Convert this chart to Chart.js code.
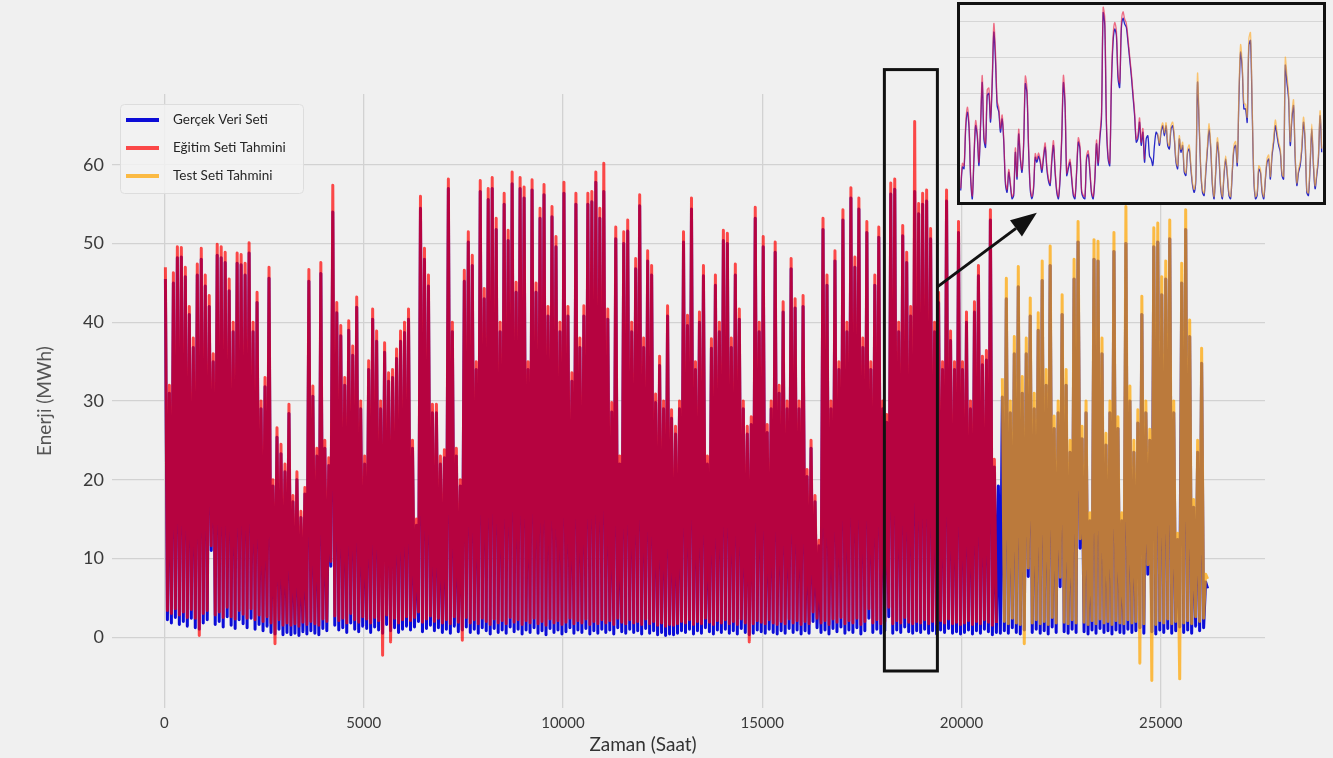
<!DOCTYPE html>
<html>
<head>
<meta charset="utf-8">
<script src="https://cdn.jsdelivr.net/npm/chart.js@4/dist/chart.umd.min.js"></script>
<style>
  html, body { margin: 0; padding: 0; background: #f0f0f0; }
  #wrap { position: relative; width: 1333px; height: 758px; overflow: hidden; background: #f0f0f0; }
  #main { position: absolute; left: 0; top: 0; }
  #zoomBox { position: absolute; left: 957px; top: 2px; width: 369px; height: 203px;
             border: 3px solid #111; box-sizing: border-box; background: #f0f0f0; }
  #inset { position: absolute; left: 0; top: 0; }
</style>
</head>
<body>
<div id="wrap">
  <canvas id="main" width="1333" height="758"></canvas>
  <div id="zoomBox"><canvas id="inset" width="363" height="197"></canvas></div>
</div>
<script>
// ---------------------------------------------------------------
// Hourly energy series, summarised as one daily-high and one
// daily-low value per 100-hour block.
// ---------------------------------------------------------------
const HOURS_PER_BLOCK = 100;
const TEST_START_HOUR = 21000;

// Gerçek veri: block highs (MWh)
const truePeaks = [
  45.5, 31, 45, 48.2, 48.3, 45.8, 41, 36.8, 46, 48,
  44.6, 42, 35, 48.5, 48.2, 47.6, 44, 38.8, 47.5, 47.3,
  46, 48.8, 38.8, 42.5, 29, 31.8, 45.6, 19.2, 25.4, 23.3,
  21, 28.4, 17.2, 20, 15.2, 18.2, 45.2, 30.6, 23, 46.2,
  24, 21.8, 54, 41.2, 38.3, 32, 39, 35.8, 41.9, 29,
  22, 34, 40.4, 37.6, 29, 36.2, 32.5, 33, 35.4, 37.6,
  38.7, 40.4, 24, 14.2, 54.5, 48, 44.6, 28.5, 28.5, 22,
  22.8, 57, 38.8, 23, 19.2, 45.2, 50.2, 47.2, 34, 56.6,
  43, 55.6, 57, 51.8, 38.8, 55, 50.4, 57.6, 43.8, 57,
  55.8, 34, 56.8, 43.8, 53.2, 56.2, 40.8, 53.4, 49.6, 38.8,
  56.4, 40.8, 32.5, 55, 36.8, 40.8, 55, 55.3, 57.8, 53.2,
  56.6, 40.4, 28.6, 50.6, 22, 50, 51.6, 38.8, 46.8, 54.8,
  36.8, 47.8, 46, 29.8, 34.5, 29, 40.8, 27.8, 25.8, 29,
  50.2, 39.6, 54.4, 34, 40, 45.9, 22, 36.7, 44.7, 38.8,
  50.4, 50, 36.8, 46, 40.4, 29, 25.8, 27, 53.2, 38.8,
  49.6, 26, 29, 48.9, 31, 41.3, 29, 46.8, 41.8, 29,
  42, 20.4, 24, 17.2, 11.6, 51.8, 44.7, 29, 47.8, 34,
  53, 38.8, 55.8, 47, 54.4, 36.8, 51.4, 34, 44.7, 50.8,
  29, 27.3, 56.3, 56.9, 38.8, 51, 47.6, 40.8, 56.6, 53.8,
  55, 55.4, 50.6, 38.8, 42.5, 34, 55.4, 37.7, 34, 51.4,
  34, 40, 29, 41.3, 45.9, 34.6, 35.2, 53, 21.6, 19.2,
  30.5, 43, 28.5, 36, 44.5, 31, 36, 40.8, 29, 39,
  45.3, 32, 47.2, 26.5, 28.5, 41, 32, 23.5, 45.5, 50.2,
  25.2, 28.5, 14.8, 48, 47.8, 36, 24.4, 28.5, 49, 26.5,
  14.8, 50, 30, 23.5, 27.2, 41, 28.5, 25, 49.6, 50.2,
  43.5, 45.5, 50.6, 28.5, 12.4, 45, 51.8, 38.2, 16.5, 23.5, 34.8, 7
];
// Gerçek veri: block lows (MWh)
const trueTroughs = [
  2.2, 1.8, 2.5, 1.6, 2.0, 1.4, 2.4, 1.2, 1.0, 1.8,
  2.2, 11, 1.6, 2.0, 1.3, 2.6, 1.5, 1.1, 2.2, 1.7,
  1.2, 2.4, 1.0, 1.6, 0.8, 1.4, 0.6, 0.4, 1.0, 0.3,
  0.6, 0.3, 0.5, 0.2, 0.7, 0.4, 0.8, 0.5, 0.3, 1.1,
  0.8, 9, 1.5, 0.9, 1.2, 0.6, 1.8, 1.0, 0.7, 1.4,
  1.1, 0.6, 1.3, 0.9, 0.5, 1.6, 0.8, 1.2, 0.6, 1.0,
  1.4, 0.9, 1.3, 2.0, 0.7, 1.1, 1.5, 0.8, 1.2, 0.6,
  1.0, 0.5, 1.4, 0.7, 0.9, 1.3, 0.6, 1.0, 0.5, 1.2,
  0.8, 0.4, 1.1, 0.6, 0.9, 0.5, 1.3, 0.7, 1.0, 0.4,
  0.9, 0.6, 1.2, 0.5, 0.8, 0.3, 1.1, 0.6, 0.9, 0.4,
  0.7, 1.2, 0.5, 0.9, 0.6, 1.1, 0.4, 0.8, 0.5, 1.0,
  0.6, 0.9, 0.4, 1.2, 0.7, 0.5, 1.0, 0.6, 0.8, 0.4,
  1.1, 0.5, 0.8, 0.3, 0.6, 0.2, 0.4, 0.3, 0.5, 0.8,
  0.6, 1.0, 0.4, 0.8, 0.5, 1.2, 0.7, 0.4, 0.9, 0.6,
  1.0, 0.5, 0.8, 0.4, 1.1, 0.6, 0.3, 0.5, 0.9, 0.7,
  0.5, 1.0, 0.6, 0.4, 0.8, 0.5, 1.1, 0.6, 0.9, 0.4,
  0.8, 0.5, 2.0, 1.2, 0.6, 0.9, 0.4, 1.1, 0.7, 1.3,
  0.5, 0.9, 0.6, 1.2, 0.4, 0.8, 2.4, 0.6, 1.0, 0.5,
  0.8, 2.6, 0.5, 0.9, 0.6, 1.3, 0.7, 0.5, 0.8, 0.6,
  1.0, 0.5, 0.8, 0.4, 0.9, 0.6, 1.1, 0.5, 0.7, 0.4,
  0.6, 0.9, 0.4, 0.8, 0.5, 1.0, 0.7, 0.3, 0.6, 0.5,
  0.8, 0.5, 1.2, 0.6, 0.4, 0.9, 7.7, 0.6, 1.0, 0.5,
  0.8, 0.4, 1.3, 0.6, 6.4, 0.7, 0.5, 1.0, 0.6, 11.3,
  0.7, 0.4, 0.9, 0.5, 1.1, 0.6, 0.8, 0.4, 0.9, 0.6,
  0.5, 1.0, 0.6, 0.8, 1.2, 0.5, 8.0, 0.7, 0.4, 0.9,
  0.6, 1.1, 0.5, 0.8, 1.3, 0.6, 0.9, 0.5, 1.4, 0.8, 1.2, 6.2
];

// Eğitim seti tahmini (hours 0 .. 20900)
const trainPeaks = [
  47, 32, 46.3, 49.6, 49.5, 47, 42, 38, 47.4, 49.4,
  46, 43.4, 36, 49.9, 49.6, 48.9, 45.5, 40, 48.8, 48.6,
  47.5, 50.1, 40, 43.8, 30, 33, 47, 20, 26.6, 24.5,
  22, 29.6, 18, 21, 16, 19, 46.7, 31.9, 24, 47.6,
  25, 22.8, 57.4, 42.5, 39.6, 33, 40.2, 37, 43.2, 30,
  23, 35.1, 41.7, 38.9, 30, 37.4, 33.6, 34, 36.6, 38.9,
  40, 41.7, 25, 15, 56, 49.4, 46, 29.6, 29.6, 23,
  23.8, 58.2, 40, 24, 20, 46.6, 51.5, 48.5, 35, 58,
  44.3, 57, 58.4, 53.2, 40, 56.4, 51.7, 59.1, 45.1, 58.4,
  57.2, 35, 58.1, 45, 54.5, 57.5, 42, 54.7, 50.9, 40,
  57.8, 42, 33.6, 56.4, 38, 42.1, 56.4, 56.6, 59.1, 54.5,
  60.2, 41.7, 29.8, 52.1, 23, 51.5, 53, 40, 48.1, 56.2,
  38, 49.1, 47.2, 30.9, 35.7, 30, 42.1, 28.9, 26.8, 30,
  51.5, 40.9, 55.8, 35, 41.3, 47.2, 23, 37.9, 46, 40,
  51.7, 51.3, 38, 47.4, 41.7, 30, 26.8, 28, 54.6, 40,
  50.9, 27, 30, 50.2, 32, 42.6, 30, 48.1, 43, 30,
  43.4, 21.3, 25, 18, 12.3, 53.2, 46, 30, 49.1, 35,
  54.3, 40, 57.1, 48.3, 55.8, 38, 52.8, 35, 46, 52.1,
  30, 28.3, 57.7, 58.2, 40, 52.3, 48.9, 42, 65.5, 55.1,
  56.4, 56.8, 51.9, 40, 43.8, 35, 56.8, 38.9, 35, 52.8,
  35, 41.3, 30, 42.6, 47.2, 35.7, 36.4, 54.3, 22.6
];
const trainTroughs = [
  3.4, 3.0, 3.6, 2.8, 3.2, 2.5, 3.5, 2.4, 0.2, 3.0,
  3.4, 11.6, 2.8, 3.2, 2.5, 3.8, 2.6, 2.3, 3.4, 2.9,
  2.4, 3.6, 2.2, 2.8, 2.0, 2.6, 1.8, -0.85, 2.2, 1.5,
  1.8, 1.5, 1.7, 1.4, 1.9, 1.6, 2.0, 1.7, 1.5, 2.3,
  2.0, 9.6, 2.7, 2.1, 2.4, 1.8, 3.0, 2.2, 1.9, 2.6,
  2.3, 1.8, 2.5, 2.1, -2.3, 2.8, -0.6, 2.4, 1.8, 2.2,
  2.6, 2.1, 2.5, 3.2, 1.9, 2.3, 2.7, 2.0, 2.4, 1.8,
  2.2, 1.7, 2.6, 1.9, -0.4, 2.5, 1.8, 2.2, 1.7, 2.4,
  2.0, 1.6, 2.3, 1.8, 2.1, 1.7, 2.5, 1.9, 2.2, 1.6,
  2.1, 1.8, 2.4, 1.7, 2.0, 1.5, 2.3, 1.8, 2.1, 1.6,
  1.9, 2.4, 1.7, 2.1, 1.8, 2.3, 1.6, 2.0, 1.7, 2.2,
  1.8, 2.1, 1.6, 2.4, 1.9, 1.7, 2.2, 1.8, 2.0, 1.6,
  2.3, 1.7, 2.0, 1.5, 1.8, 1.4, 1.6, 1.5, 1.7, 2.0,
  1.8, 2.2, 1.6, 2.0, 1.7, 2.4, 1.9, 1.6, 2.1, 1.8,
  2.2, 1.7, 2.0, 1.6, 2.3, 1.8, -0.6, 1.7, 2.1, 1.9,
  1.7, 2.2, 1.8, 1.6, 2.0, 1.7, 2.3, 1.8, 2.1, 1.6,
  2.0, 1.7, 3.2, 2.4, 1.8, 2.1, 1.6, 2.3, 1.9, 2.5,
  1.7, 2.1, 1.8, 2.4, 1.6, 2.0, 3.6, 1.8, 2.2, 1.7,
  2.0, 3.8, 1.7, 2.1, 1.8, 2.5, 1.9, 1.7, 2.0, 1.8,
  2.2, 1.7, 2.0, 1.6, 2.1, 1.8, 2.3, 1.7, 1.9, 1.6,
  1.8, 2.1, 1.6, 2.0, 1.7, 2.2, 1.9, 1.5, 1.8
];

// Test seti tahmini (hours 21000 .. 26200)
const testPeaks = [
  32.9, 45.6, 30, 38.2, 47.1, 33.1, 38, 43.1, 31, 41.2,
  47.8, 34, 49.7, 28.1, 30, 43.5, 34, 25, 48, 52.8,
  26.8, 30, 15.8, 50.5, 50.3, 38, 25.9, 30, 51.4, 28,
  15.8, 54.7, 31.9, 25, 28.9, 43.3, 30, 26.4, 52, 52.6,
  45.8, 47.8, 53, 30, 13.2, 47.5, 54.3, 40.3, 17.5, 25, 36.7, 8
];
const testTroughs = [
  2.0, 1.7, 2.4, 1.8, 1.6, -0.85, 8.8, 1.8, 2.2, 1.7,
  2.0, 1.6, 2.5, 1.8, 7.6, 1.9, 1.7, 2.2, 1.8, 12.5,
  1.9, 1.6, 2.1, 1.7, 2.3, 1.8, 2.0, 1.6, 2.1, 1.8,
  1.7, 2.2, 1.8, 2.0, -3.3, 1.7, 9.2, -5.5, 1.6, 2.1,
  1.8, 2.3, 1.7, 2.0, -5.3, 1.8, 2.1, 1.7, 2.6, 2.0, 2.4, 7.4
];

const xTickValues = [0, 5000, 10000, 15000, 20000, 25000];
const yTickValues = [0, 10, 20, 30, 40, 50, 60];

// Highlighted window and the arrow that points to the detail view
const zoomWindow = { fromHour: 18065, toHour: 19395, low: -4.3, high: 72.1 };
const arrowStartValue = 44.5;
const arrowEnd = { hour: 21890, value: 53.9 };

// ---------------------------------------------------------------
// Detail view: hourly profile around the train/test boundary,
// one sample every 4.58 hours starting at hour 20400.
// ---------------------------------------------------------------
const INSET_START_HOUR = 20400;
const INSET_STEP_HOURS = 4.58;
const INSET_TEST_FIRST_SAMPLE = 119;
const insetTrue = [
  2.9, 9.5, 9.0, 20.1, 24.8, 20.5, 6.1, 0.6, 11.7, 21.0,
  18.0, 9.9, 21.0, 33.1, 17.3, 15.0, 29.4, 30.0, 22.0, 32.5,
  47.1, 39.2, 26.6, 24.8, 19.2, 22.9, 16.4, 4.7, 2.4, 8.0,
  4.3, 0.6, 1.5, 13.6, 6.1, 18.7, 11.7, 8.0, 15.5, 32.7,
  30.0, 14.0, 3.0, 0.6, 3.4, 12.2, 10.8, 12.5, 10.8, 8.0,
  12.0, 15.0, 9.0, 5.5, 4.3, 11.0, 15.5, 8.0, 2.4, 0.6,
  6.0, 17.3, 33.0, 26.6, 7.1, 9.0, 10.8, 6.1, 1.5, 0.6,
  8.0, 16.4, 14.5, 2.4, 1.0, 0.6, 11.7, 13.0, 8.0, 2.0,
  0.6, 6.0, 16.0, 9.9, 17.3, 22.9, 52.5, 49.0, 21.0, 11.7,
  9.9, 32.2, 44.3, 48.0, 46.2, 34.1, 31.7, 48.0, 51.0, 49.4,
  48.5, 44.3, 39.7, 35.0, 29.4, 23.8, 16.4, 17.3, 22.0, 15.5,
  19.2, 10.8, 17.3, 18.2, 12.6, 11.7, 9.9, 15.5, 19.2, 18.2,
  15.5, 19.2, 21.0, 18.2, 21.0, 15.5, 14.5, 20.1, 21.0, 17.3,
  10.8, 9.0, 17.3, 13.6, 15.5, 8.0, 7.1, 13.6, 14.5, 9.0,
  4.3, 2.4, 6.1, 33.1, 21.0, 8.0, 2.4, 1.5, 8.0, 14.5,
  20.1, 14.5, 4.3, 0.6, 8.0, 16.4, 11.7, 3.4, 0.6, 7.1,
  11.7, 7.1, 1.5, 0.6, 8.0, 14.5, 15.5, 9.9, 28.5, 41.5,
  36.9, 25.7, 25.7, 22.0, 43.4, 44.8, 25.7, 6.1, 0.6, 1.5,
  8.9, 8.0, 2.4, 0.6, 6.1, 10.8, 11.7, 6.1, 12.6, 16.4,
  21.0, 18.2, 15.5, 13.6, 7.1, 6.1, 37.8, 33.1, 28.5, 15.5,
  22.9, 26.6, 11.7, 4.3, 8.0, 9.9, 14.5, 22.0, 16.4, 2.4,
  1.5, 9.9, 20.1, 9.9, 3.4, 7.1, 11.7, 23.8, 13.6
];
const insetTrain = [
  3.5, 10.5, 9.8, 21.5, 26.2, 21.8, 7.0, 1.4, 12.8, 22.4,
  19.0, 10.8, 22.2, 35.0, 18.4, 16.0, 31.0, 31.5, 23.0, 34.0,
  49.5, 41.5, 27.8, 26.0, 20.2, 24.0, 17.2, 5.5, 3.2, 8.8,
  5.0, 1.2, 2.2, 14.8, 6.8, 20.0, 12.4, 8.8, 16.5, 34.8,
  31.5, 15.0, 3.8, 1.2, 4.2, 13.2, 11.6, 13.4, 11.5, 8.8,
  12.8, 16.2, 9.8, 6.2, 5.0, 12.0, 16.8, 8.8, 3.0, 1.2,
  6.8, 18.5, 35.0, 28.0, 7.8, 9.8, 11.6, 6.8, 2.2, 1.2,
  8.8, 17.6, 15.4, 3.0, 1.6, 1.2, 12.6, 14.0, 8.8, 2.6,
  1.2, 6.8, 17.0, 10.6, 18.4, 24.2, 54.0, 51.0, 22.4, 12.6,
  10.6, 33.8, 46.0, 49.8, 47.6, 35.4, 33.0, 49.6, 52.8, 50.8,
  49.6, 45.4, 40.6, 36.0, 30.4, 24.8, 17.2, 18.4, 23.2, 16.4,
  20.2, 11.6
];
const insetTest = [
  18.8, 16.2, 20.0, 21.8, 19.0, 21.8, 16.4, 15.4, 21.0, 22.0,
  18.2, 11.6, 9.8, 18.2, 14.4, 16.4, 8.8, 7.8, 14.4, 15.6,
  9.8, 5.0, 3.2, 7.0, 35.6, 22.2, 8.8, 3.0, 2.2, 8.8,
  15.6, 21.6, 15.4, 5.0, 1.2, 8.8, 17.6, 12.6, 4.2, 1.2,
  7.8, 12.6, 7.8, 2.2, 1.2, 8.8, 15.6, 16.6, 10.8, 30.2,
  43.6, 38.2, 27.2, 27.0, 23.4, 45.2, 47.0, 27.2, 7.0, 1.2,
  2.2, 9.8, 8.8, 3.0, 1.2, 6.8, 11.8, 12.8, 6.8, 13.6,
  17.6, 22.6, 19.4, 16.4, 14.4, 7.8, 6.8, 40.0, 35.0, 30.0,
  16.6, 24.2, 28.2, 12.6, 5.0, 8.8, 10.8, 15.6, 23.4, 17.4,
  3.0, 2.2, 10.8, 21.4, 10.8, 4.2, 7.8, 12.6, 25.2, 14.6
];

const SERIES_LABELS = ['Gerçek Veri Seti', 'Eğitim Seti Tahmini', 'Test Seti Tahmini'];
const COLOR_TRUE = 'rgb(12,12,215)';
const COLOR_TRAIN = 'rgba(255,0,0,0.7)';
const COLOR_TEST = 'rgba(255,165,0,0.72)';
const FONT = 'Lato, "Open Sans", "DejaVu Sans", sans-serif';

// high inside each block first, then the low
function blockSeries(highs, lows, firstHour) {
  const pts = [];
  for (let i = 0; i < highs.length; i++) {
    const h = firstHour + i * HOURS_PER_BLOCK;
    pts.push({ x: h + 25, y: highs[i] });
    pts.push({ x: h + 75, y: lows[i] });
  }
  return pts;
}
function sampledSeries(values, firstSample) {
  return values.map((v, i) => ({ x: INSET_START_HOUR + (firstSample + i) * INSET_STEP_HOURS, y: v }));
}

const overlayPlugin = {
  id: 'overlay',
  afterDatasetsDraw(chart) {
    const { ctx, scales: { x, y } } = chart;
    ctx.save();
    // highlighted window
    const x0 = x.getPixelForValue(zoomWindow.fromHour);
    const x1 = x.getPixelForValue(zoomWindow.toHour);
    const y0 = y.getPixelForValue(zoomWindow.high);
    const y1 = y.getPixelForValue(zoomWindow.low);
    ctx.strokeStyle = '#111';
    ctx.lineWidth = 3;
    ctx.strokeRect(x0, y0, x1 - x0, y1 - y0);
    // arrow to the detail view
    const ax = x1, ay = y.getPixelForValue(arrowStartValue);
    const bx = x.getPixelForValue(arrowEnd.hour), by = y.getPixelForValue(arrowEnd.value);
    const ang = Math.atan2(by - ay, bx - ax);
    const headLen = 26, headHalf = 10;
    const hx = bx - headLen * Math.cos(ang), hy = by - headLen * Math.sin(ang);
    ctx.beginPath();
    ctx.moveTo(ax, ay);
    ctx.lineTo(hx, hy);
    ctx.stroke();
    ctx.fillStyle = '#111';
    ctx.beginPath();
    ctx.moveTo(bx, by);
    ctx.lineTo(hx + headHalf * Math.sin(ang), hy - headHalf * Math.cos(ang));
    ctx.lineTo(hx - headHalf * Math.sin(ang), hy + headHalf * Math.cos(ang));
    ctx.closePath();
    ctx.fill();
    ctx.restore();
  },
  afterDraw(chart) {
    const ctx = chart.ctx;
    ctx.save();
    // legend
    const bx = 120, by = 104, bw = 183, bh = 89;
    ctx.fillStyle = 'rgba(242,242,242,0.85)';
    ctx.strokeStyle = '#dddddd';
    ctx.lineWidth = 1;
    ctx.beginPath();
    ctx.roundRect(bx + 0.5, by + 0.5, bw, bh, 4);
    ctx.fill();
    ctx.stroke();
    ctx.font = '13.5px ' + FONT;
    ctx.textBaseline = 'middle';
    chart.data.datasets.forEach((ds, i) => {
      const ry = by + 16 + i * 28;
      ctx.strokeStyle = ds.borderColor;
      ctx.lineWidth = 4;
      ctx.beginPath();
      ctx.moveTo(bx + 6, ry);
      ctx.lineTo(bx + 39, ry);
      ctx.stroke();
      ctx.fillStyle = '#262626';
      ctx.fillText(ds.label, bx + 53, ry);
    });
    // x axis title
    ctx.font = '19px ' + FONT;
    ctx.fillStyle = '#333';
    ctx.textAlign = 'center';
    ctx.textBaseline = 'middle';
    ctx.fillText('Zaman (Saat)', 643, 745);
    ctx.restore();
  }
};

new Chart(document.getElementById('main'), {
  type: 'line',
  data: {
    datasets: [
      { label: SERIES_LABELS[0], data: blockSeries(truePeaks, trueTroughs, 0),
        borderColor: COLOR_TRUE, borderWidth: 3, order: 3 },
      { label: SERIES_LABELS[1], data: blockSeries(trainPeaks, trainTroughs, 0),
        borderColor: COLOR_TRAIN, borderWidth: 3, order: 2 },
      { label: SERIES_LABELS[2], data: blockSeries(testPeaks, testTroughs, TEST_START_HOUR),
        borderColor: COLOR_TEST, borderWidth: 3, order: 1 }
    ]
  },
  options: {
    responsive: false,
    animation: false,
    events: [],
    parsing: false,
    normalized: true,
    elements: { point: { radius: 0 }, line: { tension: 0, borderJoinStyle: 'round' } },
    layout: { padding: { left: 0, right: 68, top: 94, bottom: 0 } },
    plugins: { legend: { display: false }, tooltip: { enabled: false } },
    scales: {
      x: {
        type: 'linear', min: -1315, max: 27615,
        border: { display: false },
        grid: { color: '#d2d2d2', lineWidth: 1.3, drawTicks: false },
        ticks: { font: { family: FONT, size: 15 }, color: '#3a3a3a', padding: 6, maxRotation: 0,
                  callback: v => String(v) },
        afterBuildTicks: s => { s.ticks = xTickValues.map(v => ({ value: v })); },
        afterFit: s => { s.height = 50; }
      },
      y: {
        min: -9, max: 69,
        border: { display: false },
        grid: { color: '#d2d2d2', lineWidth: 1.3, drawTicks: false },
        ticks: { font: { family: FONT, size: 18 }, color: '#3a3a3a', padding: 8 },
        title: { display: true, text: 'Enerji (MWh)', color: '#555',
                 font: { family: FONT, size: 19 }, padding: { top: 33, bottom: 0 } },
        afterBuildTicks: s => { s.ticks = yTickValues.map(v => ({ value: v })); },
        afterFit: s => { s.width = 112; }
      }
    }
  },
  plugins: [overlayPlugin]
});

new Chart(document.getElementById('inset'), {
  type: 'line',
  data: {
    datasets: [
      { label: SERIES_LABELS[0], data: sampledSeries(insetTrue, 0),
        borderColor: 'rgb(40,40,200)', borderWidth: 1.3, order: 3 },
      { label: SERIES_LABELS[1], data: sampledSeries(insetTrain, 0),
        borderColor: 'rgba(235,20,60,0.6)', borderWidth: 1.3, order: 2 },
      { label: SERIES_LABELS[2], data: sampledSeries(insetTest, INSET_TEST_FIRST_SAMPLE),
        borderColor: 'rgba(255,170,40,0.65)', borderWidth: 1.3, order: 1 }
    ]
  },
  options: {
    responsive: false,
    animation: false,
    events: [],
    parsing: false,
    elements: { point: { radius: 0 }, line: { tension: 0.3 } },
    layout: { padding: 0 },
    plugins: { legend: { display: false }, tooltip: { enabled: false } },
    scales: {
      x: {
        type: 'linear', min: 20398, max: 21402,
        border: { display: false },
        grid: { color: '#d6d6d6', lineWidth: 1, drawTicks: false },
        ticks: { display: false, stepSize: 200 },
        afterBuildTicks: s => { s.ticks = s.ticks.filter(t => t.value % 200 === 0 && t.value > 20400 && t.value < 21400); },
        afterFit: s => { s.height = 0; }
      },
      y: {
        min: -0.3, max: 54.7,
        border: { display: false },
        grid: { color: '#d6d6d6', lineWidth: 1, drawTicks: false },
        ticks: { display: false, stepSize: 10 },
        afterBuildTicks: s => { s.ticks = s.ticks.filter(t => t.value % 10 === 0 && t.value > 0); },
        afterFit: s => { s.width = 0; }
      }
    }
  }
});
</script>
</body>
</html>
